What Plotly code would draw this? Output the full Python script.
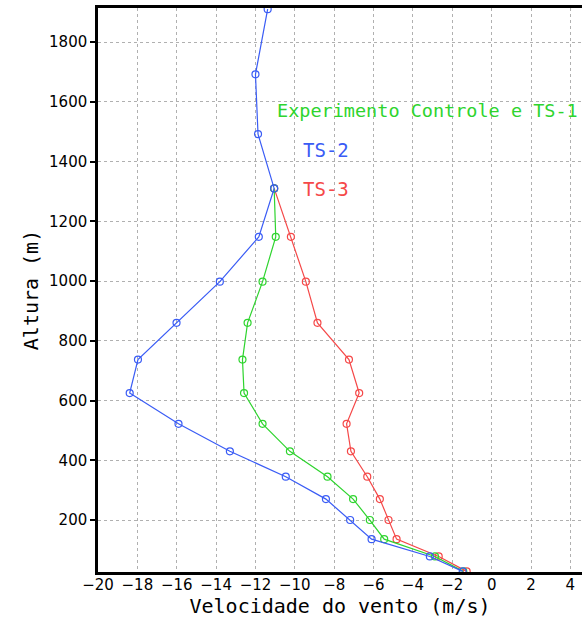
import plotly.graph_objects as go

heights = [28, 78, 136, 200, 270, 345, 430, 522, 625, 737, 860, 998, 1148, 1310, 1492, 1692, 1910]
ts2 = [-1.47, -3.14, -6.10, -7.19, -8.42, -10.46, -13.30, -15.91, -18.39, -17.97, -16.01, -13.81, -11.83, -11.05, -11.87, -12.00, -11.38]
controle = [-1.44, -2.88, -5.46, -6.19, -7.04, -8.34, -10.25, -11.64, -12.58, -12.66, -12.40, -11.64, -10.97, -11.05]
ts3 = [-1.27, -2.69, -4.83, -5.24, -5.68, -6.32, -7.15, -7.37, -6.73, -7.25, -8.85, -9.44, -10.20, -11.05]

x_ticks = list(range(-20, 5, 2))
y_ticks = list(range(200, 1801, 200))

labels = ["Experimento Controle e TS-1", "TS-2", "TS-3"]

BLUE = "#3a5cf5"
GREEN = "#2ed42e"
RED = "#f54848"

fig = go.Figure()

def add(xv, color, name):
    fig.add_trace(go.Scatter(
        x=xv, y=heights[:len(xv)], mode="lines+markers", name=name,
        line=dict(color=color, width=1.2),
        marker=dict(symbol="circle-open", size=7, color=color, line=dict(width=1.2, color=color)),
        showlegend=False,
    ))

add(ts3, RED, labels[2])
add(controle, GREEN, labels[0])
add(ts2, BLUE, labels[1])

font = "DejaVu Sans"
mono = "DejaVu Sans Mono"
fig.add_annotation(x=-11.02, y=1572, text=labels[0], showarrow=False, xanchor="left", yanchor="middle",
                   font=dict(family=mono, size=18.5, color=GREEN))
fig.add_annotation(x=-9.70, y=1438, text=labels[1], showarrow=False, xanchor="left", yanchor="middle",
                   font=dict(family=mono, size=19, color=BLUE))
fig.add_annotation(x=-9.70, y=1308, text=labels[2], showarrow=False, xanchor="left", yanchor="middle",
                   font=dict(family=mono, size=19, color=RED))

fig.update_layout(
    width=582, height=628,
    margin=dict(l=98, r=0, t=8, b=56),
    paper_bgcolor="white", plot_bgcolor="white",
    font=dict(family=font, size=15, color="black"),
    xaxis=dict(
        range=[-20, 4.59], tickvals=x_ticks, ticks="", ticklabelstandoff=-3,
        showline=True, linewidth=2.5, linecolor="black", mirror=True,
        showgrid=True, gridcolor="#b0b0b0", griddash="dot", gridwidth=1.2, zeroline=False,
        title=dict(text="Velocidade do vento (m/s)", font=dict(family=mono, size=20), standoff=4),
        tickfont=dict(size=15),
    ),
    yaxis=dict(
        range=[26, 1914], tickvals=y_ticks, ticks="outside", ticklen=5, tickwidth=1.5, tickcolor="black",
        showline=True, linewidth=2.5, linecolor="black",
        showgrid=True, gridcolor="#b0b0b0", griddash="dot", gridwidth=1.2, zeroline=False,
        title=dict(text="Altura (m)", font=dict(family=mono, size=20), standoff=6),
        tickfont=dict(size=15),
    ),
)

fig.write_html("out.html")
